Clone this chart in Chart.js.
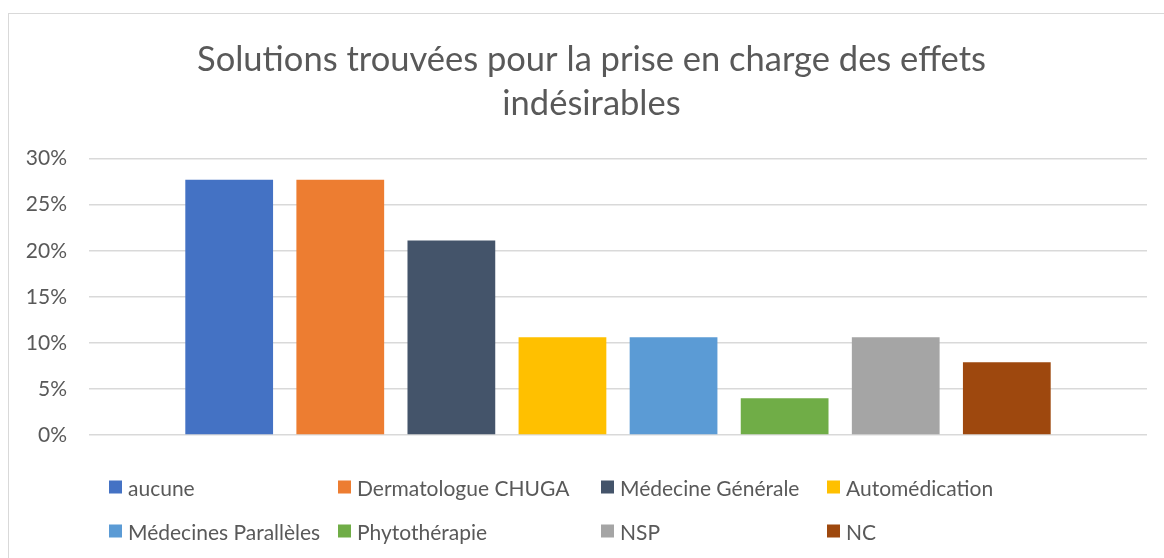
<!DOCTYPE html>
<html>
<head>
<meta charset="utf-8">
<script src="https://cdn.jsdelivr.net/npm/chart.js@4.4.1/dist/chart.umd.min.js"></script>
<style>
    html, body { margin: 0; padding: 0; background: #fff; }
    .wrap { position: relative; width: 1164px; height: 558px; overflow: hidden; }
    .frame { position: absolute; left: 8px; top: 13px; width: 1200px; height: 600px; border: 1px solid #d9d9d9; box-sizing: border-box; }
    canvas { position: absolute; left: 0; top: 0; }
    .legend { position: absolute; left: 0; top: 0; width: 1164px; height: 558px; font-family: Lato, sans-serif; font-size: 21px; color: #595959; }
    .legend .item { position: absolute; display: flex; align-items: center; white-space: nowrap; transform: translateY(-50%); }
    .legend .box { width: 13px; height: 13px; margin-right: 6px; }
</style>
</head>
<body>
<div class="wrap">
    <div class="frame"></div>
    <canvas id="chart" width="1164" height="558"></canvas>
    <div class="legend" id="legend"></div>
</div>
<script>
const titleLines = ['Solutions trouvées pour la prise en charge des effets', 'indésirables'];
const seriesNames = ['aucune', 'Dermatologue CHUGA', 'Médecine Générale', 'Automédication',
    'Médecines Parallèles', 'Phytothérapie', 'NSP', 'NC'];
const seriesValues = [27.7, 27.7, 21.1, 10.6, 10.6, 4.0, 10.6, 7.9];
const seriesColors = ['#4472c4', '#ed7d31', '#44546a', '#ffc000', '#5b9bd5', '#70ad47', '#a5a5a5', '#9e480e'];
const yTicks = [0, 5, 10, 15, 20, 25, 30];

// legend grid (Excel lays it out in columns)
const legendCols = [109, 338, 601, 827];
const legendRows = [487, 531];

const FONT = 'Lato, sans-serif';
const GREY = '#595959';

// the left padding is only there to centre the title like Excel does;
// widen the y axis box afterwards so its labels are not clipped
const widenAxis = {
    id: 'widenAxis',
    afterLayout: (chart) => { chart.scales.y.left = 0; }
};

const ctx = document.getElementById('chart').getContext('2d');
new Chart(ctx, {
    type: 'bar',
    data: {
        labels: [''],
        datasets: seriesNames.map((name, i) => ({
            label: name,
            data: [seriesValues[i]],
            backgroundColor: seriesColors[i],
            categoryPercentage: 0.84,
            barPercentage: 0.79
        }))
    },
    options: {
        responsive: false,
        animation: false,
        layout: { padding: { left: 36, right: 17, top: 38, bottom: 123 } },
        plugins: {
            legend: { display: false },
            tooltip: { enabled: false },
            title: {
                display: true,
                text: titleLines,
                color: GREY,
                font: { family: FONT, size: 34.5, weight: 'normal', lineHeight: 1.27 },
                padding: { top: 0, bottom: 33 }
            }
        },
        scales: {
            x: {
                ticks: { display: false },
                grid: { display: false },
                border: { display: false },
                afterFit: (axis) => { axis.height = 0; }
            },
            y: {
                min: 0,
                max: 30,
                afterBuildTicks: (axis) => { axis.ticks = yTicks.map(v => ({ value: v })); },
                ticks: {
                    color: GREY,
                    font: { family: FONT, size: 21 },
                    padding: 22,
                    callback: (v) => v + '%'
                },
                grid: { color: '#d9d9d9', lineWidth: 1.5, drawTicks: false },
                border: { display: false },
                afterFit: (axis) => { axis.width = 53; }
            }
        }
    },
    plugins: [widenAxis]
});

const legend = document.getElementById('legend');
seriesNames.forEach((name, i) => {
    const item = document.createElement('div');
    item.className = 'item';
    item.style.left = legendCols[i % 4] + 'px';
    item.style.top = legendRows[Math.floor(i / 4)] + 'px';
    item.innerHTML = '<span class="box" style="background:' + seriesColors[i] + '"></span>' + name;
    legend.appendChild(item);
});
</script>
</body>
</html>
